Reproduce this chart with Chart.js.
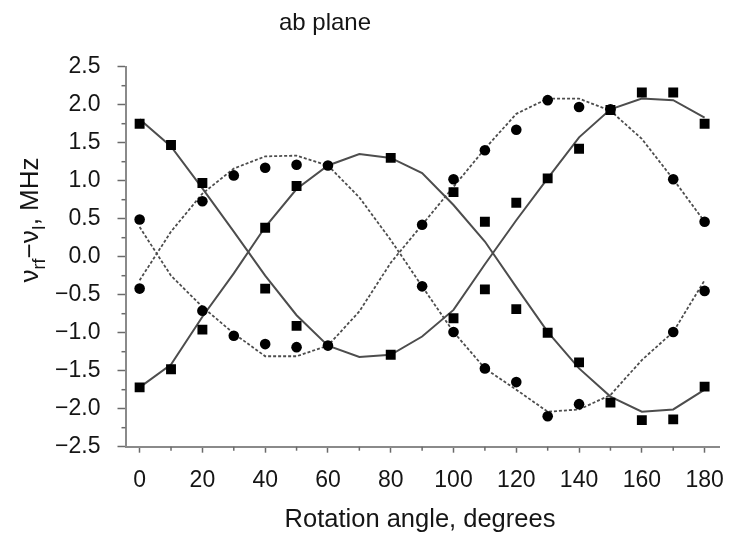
<!DOCTYPE html>
<html>
<head>
<meta charset="utf-8">
<script src="https://cdn.jsdelivr.net/npm/chart.js@4"></script>
<style>
  html, body { margin: 0; padding: 0; background: #ffffff; }
  #wrap { width: 738px; height: 538px; }
</style>
</head>
<body>
<div id="wrap"><canvas id="c" width="738" height="538"></canvas></div>
<script>
// ---- data ----
const angles = [0, 10, 20, 30, 40, 50, 60, 70, 80, 90, 100, 110, 120, 130, 140, 150, 160, 170, 180];

const squaresHigh = [1.75, 1.47, 0.97, null, 0.38, 0.93, null, null, 1.30, null, 0.85, 0.46, 0.71, 1.03, 1.42, 1.93, 2.16, 2.16, 1.75];
const squaresLow  = [-1.72, -1.48, -0.96, null, -0.42, -0.91, null, null, -1.29, null, -0.81, -0.43, -0.69, -1.00, -1.39, -1.92, -2.15, -2.14, -1.71];
const circlesHigh = [0.49, null, 0.73, 1.07, 1.17, 1.21, 1.20, null, null, 0.42, 1.02, 1.40, 1.67, 2.06, 1.97, 1.94, null, 1.02, 0.46];
const circlesLow  = [-0.42, null, -0.71, -1.04, -1.15, -1.19, -1.17, null, null, -0.39, -0.99, -1.47, -1.65, -2.10, -1.94, null, null, -0.99, -0.45];

const solidFitA  = [1.81, 1.45, 0.90, 0.33, -0.25, -0.77, -1.17, -1.32, -1.29, -1.05, -0.70, -0.10, 0.48, 1.03, 1.57, 1.94, 2.08, 2.06, 1.83];
const solidFitB  = [-1.72, -1.42, -0.79, -0.22, 0.39, 0.89, 1.20, 1.35, 1.30, 1.10, 0.68, 0.20, -0.40, -0.99, -1.47, -1.84, -2.04, -2.01, -1.75];
const dottedFitC = [0.39, -0.25, -0.66, -1.01, -1.31, -1.31, -1.17, -0.72, -0.08, 0.42, 0.92, 1.42, 1.88, 2.08, 2.08, 1.92, 1.55, 1.02, 0.46];
const dottedFitD = [-0.31, 0.33, 0.83, 1.16, 1.32, 1.33, 1.20, 0.78, 0.22, -0.39, -0.99, -1.47, -1.75, -2.04, -2.01, -1.82, -1.36, -0.99, -0.31];

const xTickValues = [0, 20, 40, 60, 80, 100, 120, 140, 160, 180];
const xTickLabels = ['0', '20', '40', '60', '80', '100', '120', '140', '160', '180'];
const xMinorTickValues = [10, 30, 50, 70, 90, 110, 130, 150, 170];
const yTickValues = [-2.5, -2.0, -1.5, -1.0, -0.5, 0.0, 0.5, 1.0, 1.5, 2.0, 2.5];
const yTickLabels = ['\u22122.5', '\u22122.0', '\u22121.5', '\u22121.0', '\u22120.5', '0.0', '0.5', '1.0', '1.5', '2.0', '2.5'];
const yMinorTickValues = [-2.25, -1.75, -1.25, -0.75, -0.25, 0.25, 0.75, 1.25, 1.75, 2.25];

const chartTitle = 'ab plane';
const xTitle = 'Rotation angle, degrees';
// y title pieces: [text, isSubscript]
const yTitleParts = [['\u03bd', false], ['rf', true], ['\u2212\u03bd', false], ['I', true], [', MHz', false]];

// ---- helpers ----
const pairs = (vals) => angles.map((a, i) => ({ x: a, y: vals[i] })).filter(p => p.y !== null);
const FONT = "'Liberation Sans', Arial, Helvetica, sans-serif";
const TEXT = '#151515';
const AXIS = '#8a8a8a';
const TICK = '#6a6a6a';
const LINE = '#4d4d4d';

const textPlugin = {
  id: 'texts',
  afterDraw(chart) {
    const ctx = chart.ctx;
    const { x, y } = chart.scales;
    ctx.save();
    // minor ticks
    ctx.strokeStyle = TICK;
    ctx.lineWidth = 1.5;
    xMinorTickValues.forEach(v => {
      const px = x.getPixelForValue(v);
      ctx.beginPath(); ctx.moveTo(px, x.top); ctx.lineTo(px, x.top + 4); ctx.stroke();
    });
    yMinorTickValues.forEach(v => {
      const py = y.getPixelForValue(v);
      ctx.beginPath(); ctx.moveTo(y.right, py); ctx.lineTo(y.right - 4, py); ctx.stroke();
    });
    // chart title
    ctx.fillStyle = TEXT;
    ctx.font = '24px ' + FONT;
    ctx.textAlign = 'center';
    ctx.textBaseline = 'alphabetic';
    ctx.fillText(chartTitle, 325, 30);
    // x title
    ctx.font = '25.5px ' + FONT;
    ctx.fillText(xTitle, 420, 527);
    // y title (rotated, with subscripts)
    const big = '26px ' + FONT, small = '18px ' + FONT;
    let total = 0;
    yTitleParts.forEach(([t, sub]) => { ctx.font = sub ? small : big; total += ctx.measureText(t).width; });
    ctx.translate(38, 220);
    ctx.rotate(-Math.PI / 2);
    ctx.textAlign = 'left';
    let cx = -total / 2;
    yTitleParts.forEach(([t, sub]) => {
      ctx.font = sub ? small : big;
      ctx.fillText(t, cx, sub ? 7 : 0);
      cx += ctx.measureText(t).width;
    });
    ctx.restore();
  }
};

const markerDefaults = { showLine: false, pointBackgroundColor: '#000', pointBorderColor: '#000', pointBorderWidth: 0 };

new Chart(document.getElementById('c'), {
  type: 'scatter',
  data: {
    datasets: [
      { label: 'squares high', data: pairs(squaresHigh), pointStyle: 'rect', pointRadius: 7, ...markerDefaults },
      { label: 'squares low', data: pairs(squaresLow), pointStyle: 'rect', pointRadius: 7, ...markerDefaults },
      { label: 'circles high', data: pairs(circlesHigh), pointStyle: 'circle', pointRadius: 5.3, ...markerDefaults },
      { label: 'circles low', data: pairs(circlesLow), pointStyle: 'circle', pointRadius: 5.3, ...markerDefaults },
      { label: 'fit A', data: pairs(solidFitA), showLine: true, pointRadius: 0, borderColor: LINE, borderWidth: 2, tension: 0 },
      { label: 'fit B', data: pairs(solidFitB), showLine: true, pointRadius: 0, borderColor: LINE, borderWidth: 2, tension: 0 },
      { label: 'fit C', data: pairs(dottedFitC), showLine: true, pointRadius: 0, borderColor: LINE, borderWidth: 1.8, borderDash: [3, 2], tension: 0 },
      { label: 'fit D', data: pairs(dottedFitD), showLine: true, pointRadius: 0, borderColor: LINE, borderWidth: 1.8, borderDash: [3, 2], tension: 0 }
    ]
  },
  options: {
    responsive: false,
    devicePixelRatio: 1,
    animation: false,
    layout: { padding: { top: 66.7, right: 8, left: 0, bottom: 0 } },
    plugins: { legend: { display: false }, tooltip: { enabled: false }, title: { display: false } },
    scales: {
      x: {
        type: 'linear',
        min: -4.5,
        max: 184.7,
        afterFit: (s) => { s.height = 91.3; },
        afterBuildTicks: (s) => { s.ticks = xTickValues.map(v => ({ value: v })); },
        border: { display: true, color: AXIS, width: 2 },
        grid: { drawOnChartArea: false, drawTicks: true, tickLength: 6, tickColor: TICK, tickWidth: 1.5 },
        ticks: {
          autoSkip: false, maxRotation: 0, padding: 14, color: TEXT,
          font: { family: FONT, size: 23 },
          callback: (v, i) => xTickLabels[i]
        }
      },
      y: {
        type: 'linear',
        min: -2.5,
        max: 2.5,
        afterFit: (s) => { s.width = 125.5; },
        afterBuildTicks: (s) => { s.ticks = yTickValues.map(v => ({ value: v })); },
        border: { display: true, color: AXIS, width: 2 },
        grid: { drawOnChartArea: false, drawTicks: true, tickLength: 8, tickColor: TICK, tickWidth: 1.5 },
        ticks: {
          autoSkip: false, padding: 17, color: TEXT,
          font: { family: FONT, size: 23 },
          callback: (v, i) => yTickLabels[i]
        }
      }
    }
  },
  plugins: [textPlugin]
});
</script>
</body>
</html>
